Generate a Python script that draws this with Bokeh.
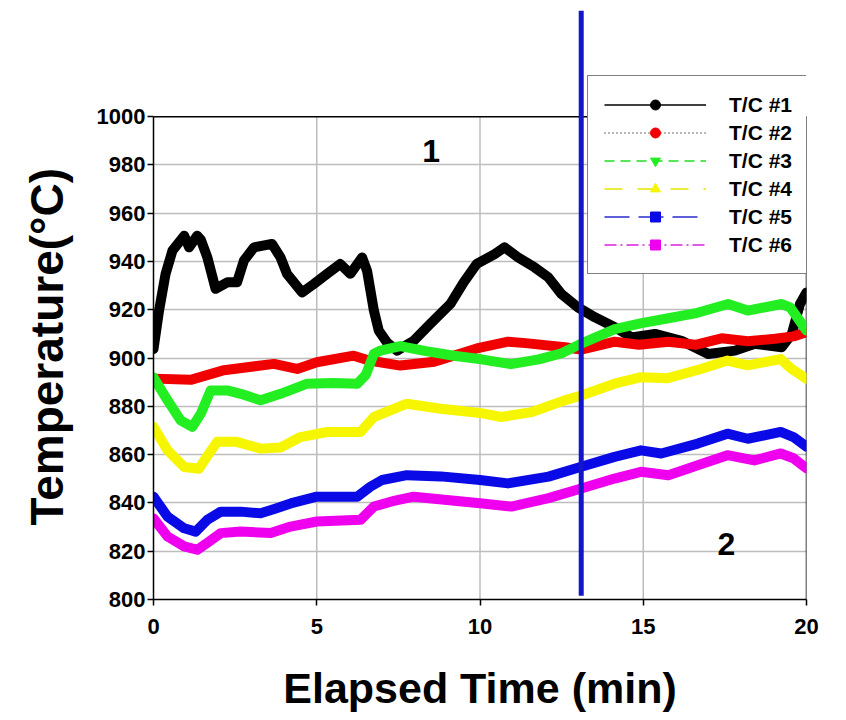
from bokeh.plotting import figure
from bokeh.models import (Range1d, FixedTicker, Legend, LegendItem, Title,
                          ColumnDataSource)
from bokeh.core.properties import value
from bokeh.embed import file_html
from bokeh.resources import INLINE

# ---------------- data ----------------
tc1_t = [0.0, 0.17, 0.37, 0.58, 0.94, 1.09, 1.34, 1.45, 1.65, 1.90, 2.26, 2.56, 2.77,
         3.08, 3.63, 3.89, 4.09, 4.55, 4.91, 5.32, 5.72, 6.03, 6.39, 6.54, 6.75, 6.90,
         7.15, 7.46, 7.97, 8.48, 9.09, 9.50, 9.90, 10.45, 10.75, 11.17, 11.67, 12.09,
         12.49, 13.0, 13.52, 14.13, 14.64, 15.36, 16.17, 16.99, 17.81, 18.42, 19.24,
         19.55, 19.80, 20.0]
tc1_v = [903.8, 919.7, 934.9, 944.5, 950.7, 945.9, 950.7, 949.0, 941.7, 928.7, 931.4,
         931.4, 940.4, 945.9, 947.3, 941.7, 934.9, 927.2, 930.7, 934.9, 939.0, 934.9,
         941.7, 936.2, 919.7, 911.4, 906.5, 903.1, 907.2, 914.2, 922.4, 931.4, 939.0,
         943.1, 945.9, 941.7, 937.6, 933.5, 926.6, 921.0, 916.9, 912.8, 908.6, 910.0,
         907.2, 901.7, 903.1, 905.9, 904.5, 910.0, 922.4, 927.2]

tc2_t = [0.0, 1.14, 2.16, 3.69, 4.4, 5.0, 6.13, 6.6, 7.56, 8.6, 9.9, 10.86, 11.4, 12.6,
         13.1, 14.13, 14.87, 15.77, 16.6, 17.4, 18.2, 19.04, 19.6, 20.0]
tc2_v = [891.5, 891.0, 895.0, 897.6, 895.5, 898.3, 901.0, 899.0, 896.9, 898.5, 904.0,
         906.8, 906.2, 904.5, 903.5, 906.8, 905.5, 906.8, 905.5, 908.2, 907.0, 908.0,
         909.0, 910.7]

tc3_t = [0.0, 0.43, 0.83, 1.19, 1.45, 1.75, 2.26, 2.67, 3.28, 3.89, 4.71, 5.5, 6.24,
         6.5, 6.75, 6.95, 7.56, 8.3, 9.2, 10.04, 10.95, 11.8, 12.5, 13.1, 14.13, 14.95,
         15.77, 16.58, 17.6, 18.2, 19.24, 19.5, 20.0]
tc3_v = [892.0, 882.5, 874.2, 871.5, 877.0, 886.6, 886.6, 885.2, 882.5, 885.2, 889.4,
         889.7, 889.4, 893.0, 901.8, 903.1, 905.0, 903.0, 901.0, 899.5, 897.5, 899.5,
         902.0, 906.0, 912.0, 914.5, 916.5, 918.5, 922.4, 919.7, 922.4, 921.0, 911.4]

tc4_t = [0.0, 0.43, 0.94, 1.39, 1.6, 1.95, 2.55, 3.28, 3.9, 4.5, 5.32, 6.34, 6.75, 7.76,
         8.8, 10.0, 10.65, 11.57, 12.59, 13.1, 14.12, 14.93, 15.75, 16.77, 17.58, 18.2,
         19.21, 19.5, 20.0]
tc4_v = [871.5, 861.8, 854.9, 854.2, 858.5, 865.3, 865.3, 862.5, 863.0, 867.3, 869.4,
         869.4, 875.6, 881.1, 879.0, 877.3, 875.6, 877.6, 882.5, 884.5, 889.4, 892.1,
         891.7, 895.5, 899.0, 897.0, 899.6, 896.0, 891.4]

tc5_t = [0.0, 0.43, 0.94, 1.29, 1.65, 2.06, 2.67, 3.28, 3.7, 4.2, 5.0, 6.24, 6.64, 7.0,
         7.76, 8.8, 10.0, 10.86, 12.1, 13.1, 14.12, 14.93, 15.55, 16.67, 17.58, 18.2,
         19.21, 19.6, 20.0]
tc5_v = [842.6, 834.3, 829.5, 828.1, 833.0, 836.4, 836.4, 835.7, 837.5, 839.8, 842.6,
         842.6, 846.7, 849.5, 851.5, 851.0, 849.5, 848.1, 850.9, 855.0, 859.1, 861.8,
         860.5, 864.6, 868.7, 866.6, 869.4, 867.3, 863.3]

tc6_t = [0.0, 0.43, 0.94, 1.34, 1.6, 2.06, 2.67, 3.59, 4.2, 5.0, 6.34, 6.75, 7.4, 7.97,
         10.0, 10.96, 12.1, 13.1, 14.12, 14.93, 15.77, 16.67, 17.58, 18.4, 19.21, 19.6,
         20.0]
tc6_v = [833.6, 826.1, 822.0, 820.6, 823.0, 827.5, 828.2, 827.5, 830.2, 832.3, 833.0,
         838.5, 841.0, 842.6, 839.9, 838.5, 842.0, 846.0, 850.1, 852.9, 851.5, 855.6,
         859.8, 857.6, 860.5, 858.5, 854.3]

series_names = ["T/C #1", "T/C #2", "T/C #3", "T/C #4", "T/C #5", "T/C #6"]
series_t = [tc1_t, tc2_t, tc3_t, tc4_t, tc5_t, tc6_t]
series_v = [tc1_v, tc2_v, tc3_v, tc4_v, tc5_v, tc6_v]

x_ticks = [0, 5, 10, 15, 20]
y_ticks = [800, 820, 840, 860, 880, 900, 920, 940, 960, 980, 1000]

divider_t = 13.1              # vertical marker line (min)
divider_span = (801.6, 1044)  # its vertical extent (deg C)

region_text = ["1", "2"]
region_t = [8.5, 17.55]
region_v = [986.0, 822.8]

y_title = "Temperature(°C)"
x_title = "Elapsed Time (min)"

# ---------------- styles ----------------
FONT = "Liberation Sans"
NAN = float("nan")
line_colors = ["#000000", "#f00000", "#22ee22", "#f6f600", "#0a0ae6", "#ee00ee"]
leg_line_colors = ["#000000", "#444444", "#22dd22", "#e6e600", "#2a2acc", "#dd22dd"]
leg_dash = ["solid", "1 3", "10 6", "18 15", "25 9", "12 4 2 4"]
leg_marker = ["circle", "circle", "inverted_triangle", "triangle", "square", "square"]
leg_msize = [11, 11, 11, 11, 10, 10]

p = figure(frame_width=653, frame_height=589, output_backend="svg",
           toolbar_location=None, title=None,
           x_range=Range1d(x_ticks[0], x_ticks[-1]),
           y_range=Range1d(y_ticks[0], divider_span[1]),
           min_border_left=153, min_border_top=10, min_border_right=20,
           min_border_bottom=0)
p.outline_line_color = None
p.background_fill_color = "white"
p.border_fill_color = "white"

# grid
p.xgrid.visible = False
p.ygrid.ticker = FixedTicker(ticks=y_ticks[1:-1])
p.ygrid.grid_line_color = "#bdbdbd"
p.ygrid.grid_line_width = 1.5
inner_x = x_ticks[1:-1]
p.segment(x0=inner_x, y0=[y_ticks[0]] * len(inner_x), x1=inner_x,
          y1=[y_ticks[-1]] * len(inner_x), line_color="#bdbdbd", line_width=1.5)

# frame top / right borders (plot area only spans 800-1000)
p.segment(x0=[x_ticks[0], x_ticks[-1]], y0=[y_ticks[-1], y_ticks[0]],
          x1=[x_ticks[-1], x_ticks[-1]], y1=[y_ticks[-1], y_ticks[-1]],
          line_color="black", line_width=1.5)

# data lines
for t, v, c in zip(series_t, series_v, line_colors):
    p.line(t, v, line_color=c, line_width=10, line_join="round", line_cap="round")

# vertical divider
p.segment(x0=[divider_t], y0=[divider_span[0]], x1=[divider_t], y1=[divider_span[1]],
          line_color="#1414cc", line_width=5)

# region labels
p.text(x=region_t, y=region_v, text=region_text, text_font=value(FONT),
       text_font_style="bold", text_font_size="32px", text_align="center",
       text_baseline="middle", text_color="black")

# axes
for ax in p.xaxis:
    ax.ticker = FixedTicker(ticks=x_ticks)
for ax in p.yaxis:
    ax.ticker = FixedTicker(ticks=y_ticks)
    ax.bounds = (y_ticks[0], y_ticks[-1])
for ax in list(p.xaxis) + list(p.yaxis):
    ax.axis_line_color = "black"
    ax.axis_line_width = 1.5
    ax.major_tick_line_color = "black"
    ax.major_tick_line_width = 1.5
    ax.major_tick_out = 6
    ax.major_tick_in = 0
    ax.minor_tick_line_color = None
    ax.major_label_text_font = FONT
    ax.major_label_text_font_style = "bold"
    ax.major_label_text_font_size = "22px"
    ax.major_label_text_color = "black"
p.yaxis.major_label_standoff = 2
p.xaxis.major_label_standoff = 13
p.xaxis.axis_label = x_title
p.xaxis.axis_label_text_font = FONT
p.xaxis.axis_label_text_font_style = "bold"
p.xaxis.axis_label_text_font_size = "43px"
p.xaxis.axis_label_text_color = "black"
p.xaxis.axis_label_standoff = 27

# y title as a side title, so it can sit lower than the (extended) frame centre
ytitle = Title(text=y_title, align="left", vertical_align="middle", offset=74,
               standoff=39, text_font=FONT, text_font_style="bold",
               text_font_size="46px", text_color="black")
p.add_layout(ytitle, "left")

# legend (separate thin styled glyphs, as in the reference key)
items = []
for name, lc, dash, mk, ms, fc in zip(series_names, leg_line_colors, leg_dash,
                                      leg_marker, leg_msize, line_colors):
    src = ColumnDataSource(data=dict(x=[NAN], y=[NAN]))
    lr = p.line("x", "y", source=src, line_color=lc, line_width=1.5, line_dash=dash)
    mr = p.scatter("x", "y", source=src, marker=mk, size=ms, fill_color=fc,
                   line_color=fc)
    items.append(LegendItem(label=name, renderers=[lr, mr]))

legend = Legend(items=items, location=(434, 325), padding=16, spacing=3,
                glyph_width=102, glyph_height=25, label_height=25,
                label_standoff=23, margin=0,
                label_text_font=FONT, label_text_font_style="bold",
                label_text_font_size="21px", label_text_color="black",
                border_line_color="black", border_line_width=1.5,
                background_fill_color="white", background_fill_alpha=1.0)
p.add_layout(legend, "center")

with open("out.html", "w") as f:
    f.write(file_html(p, INLINE))
